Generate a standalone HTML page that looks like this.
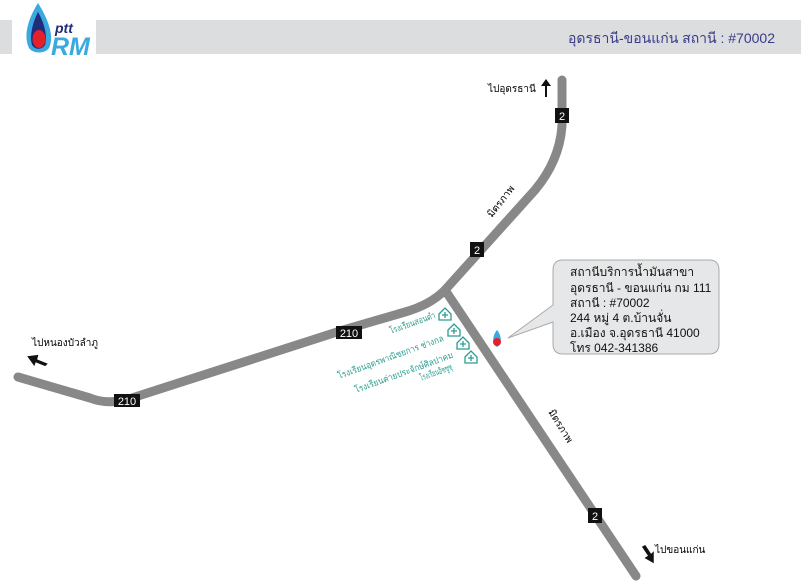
<!DOCTYPE html>
<html><head><meta charset="utf-8"><style>
body{margin:0;width:801px;height:583px;background:#fff;overflow:hidden}
svg{display:block}
text{font-family:"Liberation Sans","Noto Sans CJK SC",sans-serif}
</style></head><body>
<svg width="801" height="583" viewBox="0 0 801 583">
<rect x="0" y="20" width="12" height="34" fill="#dcdddf"/>
<rect x="96" y="20" width="705" height="34" fill="#dcdddf"/>
<text x="775" y="43" font-size="14" fill="#3a3a8a" text-anchor="end">อุดรธานี-ขอนแก่น สถานี : #70002</text>
<path d="M38 3 C26 22 24 38 29 48 C33 54 45 54 49 48 C54 38 50 22 38 3Z" fill="#3ba9e0"/>
<path d="M38 12 C31 26 30 38 32 45 C35 50 42 50 45 45 C47 38 46 26 38 12Z" fill="#1f2d7a"/>
<ellipse cx="39" cy="39" rx="6.5" ry="9" fill="#e4212b"/>
<text x="55" y="33" font-size="14" font-style="italic" font-weight="bold" fill="#1f2d7a">ptt</text>
<text x="51" y="55" font-size="25" font-style="italic" font-weight="bold" fill="#3ba9e0">RM</text>
<g fill="none" stroke="#888" stroke-width="9" stroke-linecap="round" stroke-linejoin="round">
<path d="M562 80 L562 125 Q560 160 535 190 L445 290"/>
<path d="M445 290 L636 576"/>
<path d="M445 290 Q430 305 405 312 L340 331 L135 397 Q110 406 90 398 L18 377"/>
</g>
<g font-size="11" fill="#fff" text-anchor="middle">
<rect x="555" y="108" width="14" height="15" fill="#111"/><text x="562" y="120">2</text>
<rect x="470" y="242" width="14" height="15" fill="#111"/><text x="477" y="254">2</text>
<rect x="588" y="508" width="14" height="15" fill="#111"/><text x="595" y="520">2</text>
<rect x="336" y="326" width="26" height="13" fill="#111"/><text x="349" y="337">210</text>
<rect x="114" y="394" width="26" height="13" fill="#111"/><text x="127" y="405">210</text>
</g>
<text x="0" y="0" font-size="10" transform="translate(492,218) rotate(-52)">มิตรภาพ</text>
<text x="0" y="0" font-size="10" transform="translate(548,412) rotate(58)">มิตรภาพ</text>
<text x="488" y="92" font-size="10">ไปอุดรธานี</text>
<path d="M545 97 L545 86 L541 86 L546 79 L551 86 L547 86 L547 97Z" fill="#111"/>
<text x="32" y="346" font-size="10">ไปหนองบัวลำภู</text>
<path d="M46 364 L36 360 L37 356 L29 357 L34 364 L35 361 L45 365Z" fill="#111" stroke="#111" stroke-width="2"/>
<text x="655" y="553" font-size="10">ไปขอนแก่น</text>
<path d="M643 547 L649 556 L646 558 L653 562 L653 553 L651 555 L645 546Z" fill="#111" stroke="#111" stroke-width="1.5"/>
<path d="M563 260 H709 Q719 260 719 270 V344 Q719 354 709 354 H563 Q553 354 553 344 V322 L508 338 L553 305 V270 Q553 260 563 260Z" fill="#e6e7e8" stroke="#aaa"/>
<g font-size="12" fill="#111">
<text x="570" y="276">สถานีบริการน้ำมันสาขา</text>
<text x="570" y="292">อุดรธานี - ขอนแก่น กม 111</text>
<text x="570" y="307">สถานี : #70002</text>
<text x="570" y="322">244  หมู่ 4 ต.บ้านจั่น</text>
<text x="570" y="337">อ.เมือง จ.อุดรธานี 41000</text>
<text x="570" y="352">โทร 042-341386</text>
</g>
<path d="M497 330 C492 336 492 344 497 347 C502 344 502 336 497 330Z" fill="#3ba9e0"/>
<circle cx="497" cy="342" r="4" fill="#e4212b"/>
<g font-size="9" fill="#2a9d8f">
<text transform="translate(391,334) rotate(-20)" textLength="48" lengthAdjust="spacingAndGlyphs">โรงเรียนสอนดำ</text>
<text transform="translate(339,379) rotate(-20)" textLength="112" lengthAdjust="spacingAndGlyphs">โรงเรียนอุดรพาณิชยการ ช่างกล</text>
<text transform="translate(356,393) rotate(-20)" textLength="104" lengthAdjust="spacingAndGlyphs">โรงเรียนค่ายประจักษ์ศิลปาคม</text>
<text transform="translate(421,381) rotate(-20)" textLength="34" lengthAdjust="spacingAndGlyphs">โรงเรียนอิซซูซุ</text>
</g>
<g fill="none" stroke="#2a9d8f" stroke-width="1.3">
<path d="M439 314 L445 308 L451 314 V320 H439Z"/><path d="M445 312 V318 M442 315 H448"/>
<path d="M448 330 L454 324 L460 330 V336 H448Z"/><path d="M454 328 V334 M451 331 H457"/>
<path d="M457 343 L463 337 L469 343 V349 H457Z"/><path d="M463 341 V347 M460 344 H466"/>
<path d="M465 357 L471 351 L477 357 V363 H465Z"/><path d="M471 355 V361 M468 358 H474"/>
</g>
</svg>
</body></html>
